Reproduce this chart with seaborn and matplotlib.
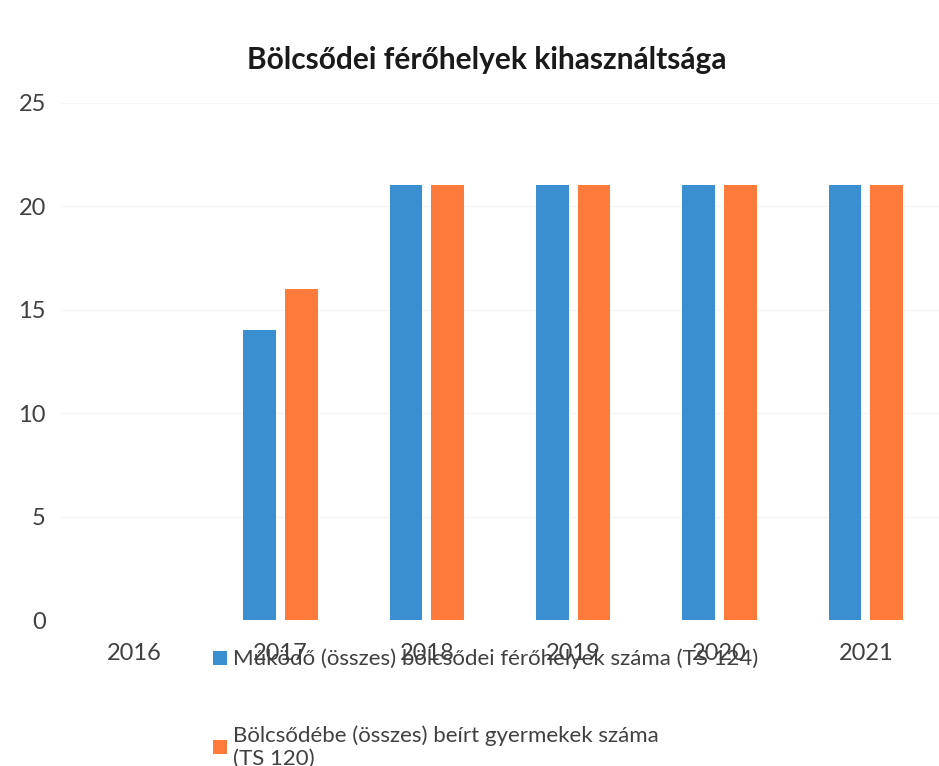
import numpy as np
import pandas as pd
import matplotlib
matplotlib.use("Agg")
import matplotlib.pyplot as plt
import seaborn as sns

# data
years = ["2016", "2017", "2018", "2019", "2020", "2021"]
ferohelyek = [0, 14, 21, 21, 21, 21]   # TS 124
beirt = [0, 16, 21, 21, 21, 21]        # TS 120
series_names = ["Működő (összes) bölcsődei férőhelyek száma (TS 124)",
                "Bölcsődébe (összes) beírt gyermekek száma\n(TS 120)"]
colors = ["#3a8fd0", "#fe7b3c"]

df = pd.DataFrame({
    "year": years * 2,
    "value": ferohelyek + beirt,
    "series": [series_names[0]] * len(years) + [series_names[1]] * len(years),
})

sns.set_theme(style="white")
plt.rcParams["font.family"] = ["Lato", "DejaVu Sans"]

fig = plt.figure(figsize=(9.39, 7.66), dpi=100)
ax = fig.add_axes([0.065, 0.19, 0.935, 0.676])

sns.barplot(data=df, x="year", y="value", hue="series", palette=colors,
            saturation=1, width=0.57, gap=0.22, ax=ax, linewidth=0)

ax.set_ylim(0, 25)
ax.set_yticks(range(0, 26, 5))
ax.yaxis.grid(True, color="#f5f5f5", linewidth=1)
ax.set_axisbelow(True)
ax.set_xlabel("")
ax.set_ylabel("")
for s in ax.spines.values():
    s.set_visible(False)
ax.tick_params(axis="both", length=0, labelsize=17, colors="#404040")
ax.tick_params(axis="y", pad=11)
ax.tick_params(axis="x", pad=16)

fig.suptitle("Bölcsődei férőhelyek kihasználtsága", x=0.518, y=0.94,
             fontsize=21.5, fontweight="bold", color="#1a1a1a")

sns.move_legend(ax, loc="upper left", bbox_to_anchor=(0.206, 0.179),
                bbox_transform=fig.transFigure, title=None, frameon=False,
                fontsize=16, handlelength=0.6, handleheight=0.6,
                handletextpad=0.3, labelspacing=2.5, labelcolor="#404040")

fig.savefig("out.png", dpi=100)
